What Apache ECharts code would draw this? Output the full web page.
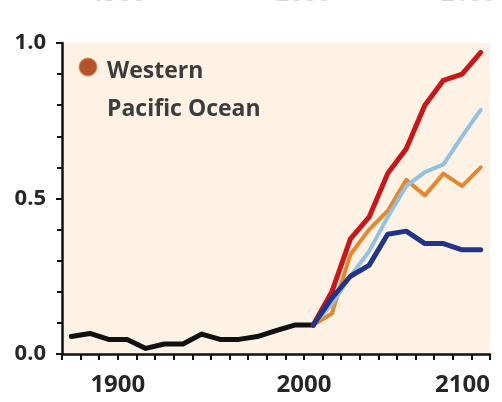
<!DOCTYPE html>
<html>
<head>
<meta charset="utf-8">
<script src="https://cdn.jsdelivr.net/npm/echarts@6/dist/echarts.min.js"></script>
<style>
html,body{margin:0;padding:0;background:#fff;}
#chart{width:502px;height:402px;}
</style>
</head>
<body>
<div id="chart"></div>
<script>
// ---- data ----
var histYears = [1875, 1885, 1895, 1905, 1915, 1925, 1935, 1945, 1955, 1965, 1975, 1985, 1995, 2005];
var histValues = [0.056, 0.066, 0.047, 0.047, 0.018, 0.032, 0.032, 0.064, 0.047, 0.047, 0.056, 0.075, 0.093, 0.093];
var futureYears = [2005, 2015, 2025, 2035, 2045, 2055, 2065, 2075, 2085, 2095];
var redValues = [0.093, 0.20, 0.37, 0.44, 0.58, 0.66, 0.80, 0.88, 0.90, 0.97];
var lightBlueValues = [0.093, 0.16, 0.25, 0.33, 0.44, 0.54, 0.585, 0.61, 0.70, 0.785];
var orangeValues = [0.093, 0.13, 0.32, 0.40, 0.46, 0.56, 0.51, 0.58, 0.54, 0.60];
var darkBlueValues = [0.093, 0.18, 0.25, 0.285, 0.385, 0.395, 0.355, 0.355, 0.335, 0.335];
var xLabelYears = [1900, 2000, 2100];
var yLabelValues = [0, 0.5, 1];
var panelTitle = 'Western\nPacific Ocean';
var ghostLabels = ['1900', '2000', '2100'];

function pairs(xs, ys) { return xs.map(function (x, i) { return [x, ys[i]]; }); }

var chart = echarts.init(document.getElementById('chart'), null, {renderer: 'canvas'});
var FONT = 'Open Sans';

function lineSeries(name, xs, ys, color, width, z) {
  return {
    name: name, type: 'line', data: pairs(xs, ys), symbol: 'none',
    lineStyle: {color: color, width: width, cap: 'round', join: 'round'},
    z: z, animation: false, silent: true
  };
}

var option = {
  animation: false,
  backgroundColor: '#ffffff',
  grid: {left: 62, right: 12, top: 43, bottom: 48, show: true, backgroundColor: '#FDF2E4', borderWidth: 0},
  title: {
    text: panelTitle, left: 102, top: 47,
    textStyle: {fontFamily: FONT, fontWeight: 'bold', fontSize: 23, color: '#3c3c3c', lineHeight: 38}
  },
  graphic: [
    {type: 'circle', shape: {cx: 88, cy: 67, r: 9}, style: {fill: '#B5532B', stroke: '#D98A5C', lineWidth: 1}, z: 100},
    {type: 'text', x: 118, y: -18, style: {text: ghostLabels[0], fill: '#d6d6d6', font: 'bold 24px "Open Sans"', textAlign: 'center'}},
    {type: 'text', x: 303, y: -18, style: {text: ghostLabels[1], fill: '#d6d6d6', font: 'bold 24px "Open Sans"', textAlign: 'center'}},
    {type: 'text', x: 468, y: -18, style: {text: ghostLabels[2], fill: '#d6d6d6', font: 'bold 24px "Open Sans"', textAlign: 'center'}}
  ],
  xAxis: {
    type: 'value', min: 1870, max: 2100, interval: 10,
    axisLine: {show: true, lineStyle: {color: '#111', width: 2.5}},
    axisTick: {show: true, inside: false, length: 6, lineStyle: {color: '#111', width: 2}},
    splitLine: {show: false},
    axisLabel: {
      margin: 19, fontFamily: FONT, fontWeight: 'bold', fontSize: 24, color: '#262626',
      alignMaxLabel: 'right',
      formatter: function (v) { return xLabelYears.indexOf(Math.round(v)) >= 0 ? String(Math.round(v)) : ''; }
    }
  },
  yAxis: {
    type: 'value', min: 0, max: 1, interval: 0.5,
    axisLine: {show: true, lineStyle: {color: '#111', width: 2.5}},
    axisTick: {show: true, length: 6, lineStyle: {color: '#111', width: 2}},
    minorTick: {show: true, splitNumber: 5, length: 5, lineStyle: {color: '#111', width: 2}},
    splitLine: {show: false},
    axisLabel: {
      margin: 16, fontFamily: FONT, fontWeight: 'bold', fontSize: 22, color: '#262626',
      formatter: function (v) {
        for (var i = 0; i < yLabelValues.length; i++) { if (Math.abs(v - yLabelValues[i]) < 1e-6) return v.toFixed(1); }
        return '';
      }
    }
  },
  series: [
    lineSeries('Historical', histYears, histValues, '#111111', 5, 5),
    lineSeries('Orange', futureYears, orangeValues, '#E5872D', 4, 6),
    lineSeries('Light blue', futureYears, lightBlueValues, '#93C1E3', 4, 7),
    lineSeries('Red', futureYears, redValues, '#CC1518', 5, 8),
    lineSeries('Dark blue', futureYears, darkBlueValues, '#22338A', 5, 9)
  ]
};
chart.setOption(option);
</script>
</body>
</html>
